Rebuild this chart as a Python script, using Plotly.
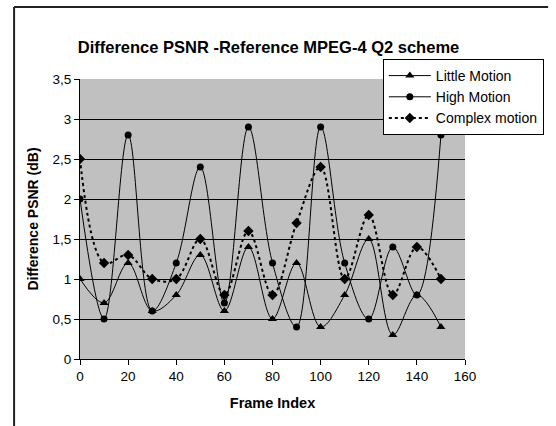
import plotly.graph_objects as go

frames = [0, 10, 20, 30, 40, 50, 60, 70, 80, 90, 100, 110, 120, 130, 140, 150]
little_motion = [1.0, 0.7, 1.2, 0.6, 0.8, 1.3, 0.6, 1.4, 0.5, 1.2, 0.4, 0.8, 1.5, 0.3, 0.8, 0.4]
high_motion = [2.0, 0.5, 2.8, 0.6, 1.2, 2.4, 0.7, 2.9, 1.2, 0.4, 2.9, 1.2, 0.5, 1.4, 0.8, 2.8]
complex_motion = [2.5, 1.2, 1.3, 1.0, 1.0, 1.5, 0.8, 1.6, 0.8, 1.7, 2.4, 1.0, 1.8, 0.8, 1.4, 1.0]

y_ticks = [0, 0.5, 1, 1.5, 2, 2.5, 3, 3.5]
y_tick_text = ["0", "0,5", "1", "1,5", "2", "2,5", "3", "3,5"]
x_ticks = [0, 20, 40, 60, 80, 100, 120, 140, 160]

FONT = "Arial, Liberation Sans, sans-serif"

fig = go.Figure()
fig.add_trace(go.Scatter(
    x=frames, y=little_motion, name="Little Motion",
    mode="lines+markers", line=dict(color="black", width=1, shape="spline", smoothing=1),
    marker=dict(symbol="triangle-up", size=8, color="black"),
))
fig.add_trace(go.Scatter(
    x=frames, y=high_motion, name="High Motion",
    mode="lines+markers", line=dict(color="black", width=1, shape="spline", smoothing=1),
    marker=dict(symbol="circle", size=7, color="black"),
))
fig.add_trace(go.Scatter(
    x=frames, y=complex_motion, name="Complex motion",
    mode="lines+markers", line=dict(color="black", width=2, dash="dot", shape="spline", smoothing=1),
    marker=dict(symbol="diamond", size=8, color="black"),
))

W, H = 556, 426
L, R, T, B = 80, 73, 79, 67
pw, ph = W - L - R, H - T - B

def px_x(px):
    return (px - L) / pw

def px_y(py):
    return (H - B - py) / ph

fig.update_layout(
    width=W, height=H,
    margin=dict(l=L, r=R, t=T, b=B, pad=0),
    paper_bgcolor="white",
    plot_bgcolor="#C0C0C0",
    font=dict(family=FONT, color="black", size=13),
    title=dict(
        text="<b>Difference PSNR -Reference MPEG-4 Q2 scheme</b>",
        font=dict(family=FONT, size=16.5, color="black"),
        x=268.5 / W, xanchor="center", y=1 - 47 / H, yanchor="middle",
    ),
    showlegend=True,
    legend=dict(
        x=px_x(397), y=px_y(59), xanchor="left", yanchor="top",
        bgcolor="white", bordercolor="black", borderwidth=1,
        font=dict(family=FONT, size=14, color="black"),
        tracegroupgap=0, itemwidth=42,
    ),
    xaxis=dict(
        range=[0, 160], tickvals=x_ticks, showgrid=False, zeroline=False,
        showline=True, linecolor="black", linewidth=1,
        ticks="outside", ticklen=5, tickcolor="black",
        tickfont=dict(family=FONT, size=13.5),
        title=dict(text="<b>Frame Index</b>", font=dict(family=FONT, size=14.5), standoff=14),
    ),
    yaxis=dict(
        range=[0, 3.5], tickvals=y_ticks, ticktext=y_tick_text,
        showgrid=True, gridcolor="black", gridwidth=1, zeroline=False,
        showline=True, linecolor="black", linewidth=1,
        ticks="outside", ticklen=5, tickcolor="black",
        tickfont=dict(family=FONT, size=13.5),
        title=dict(text="<b>Difference PSNR (dB)</b>", font=dict(family=FONT, size=14), standoff=10),
    ),
    shapes=[
        dict(type="line", xref="paper", yref="paper",
             x0=px_x(11), x1=px_x(11), y0=px_y(7), y1=px_y(440),
             line=dict(color="#222222", width=2)),
        dict(type="line", xref="paper", yref="paper",
             x0=px_x(11), x1=px_x(570), y0=px_y(7), y1=px_y(7),
             line=dict(color="#222222", width=2)),
    ],
)

fig.write_html("out.html")
